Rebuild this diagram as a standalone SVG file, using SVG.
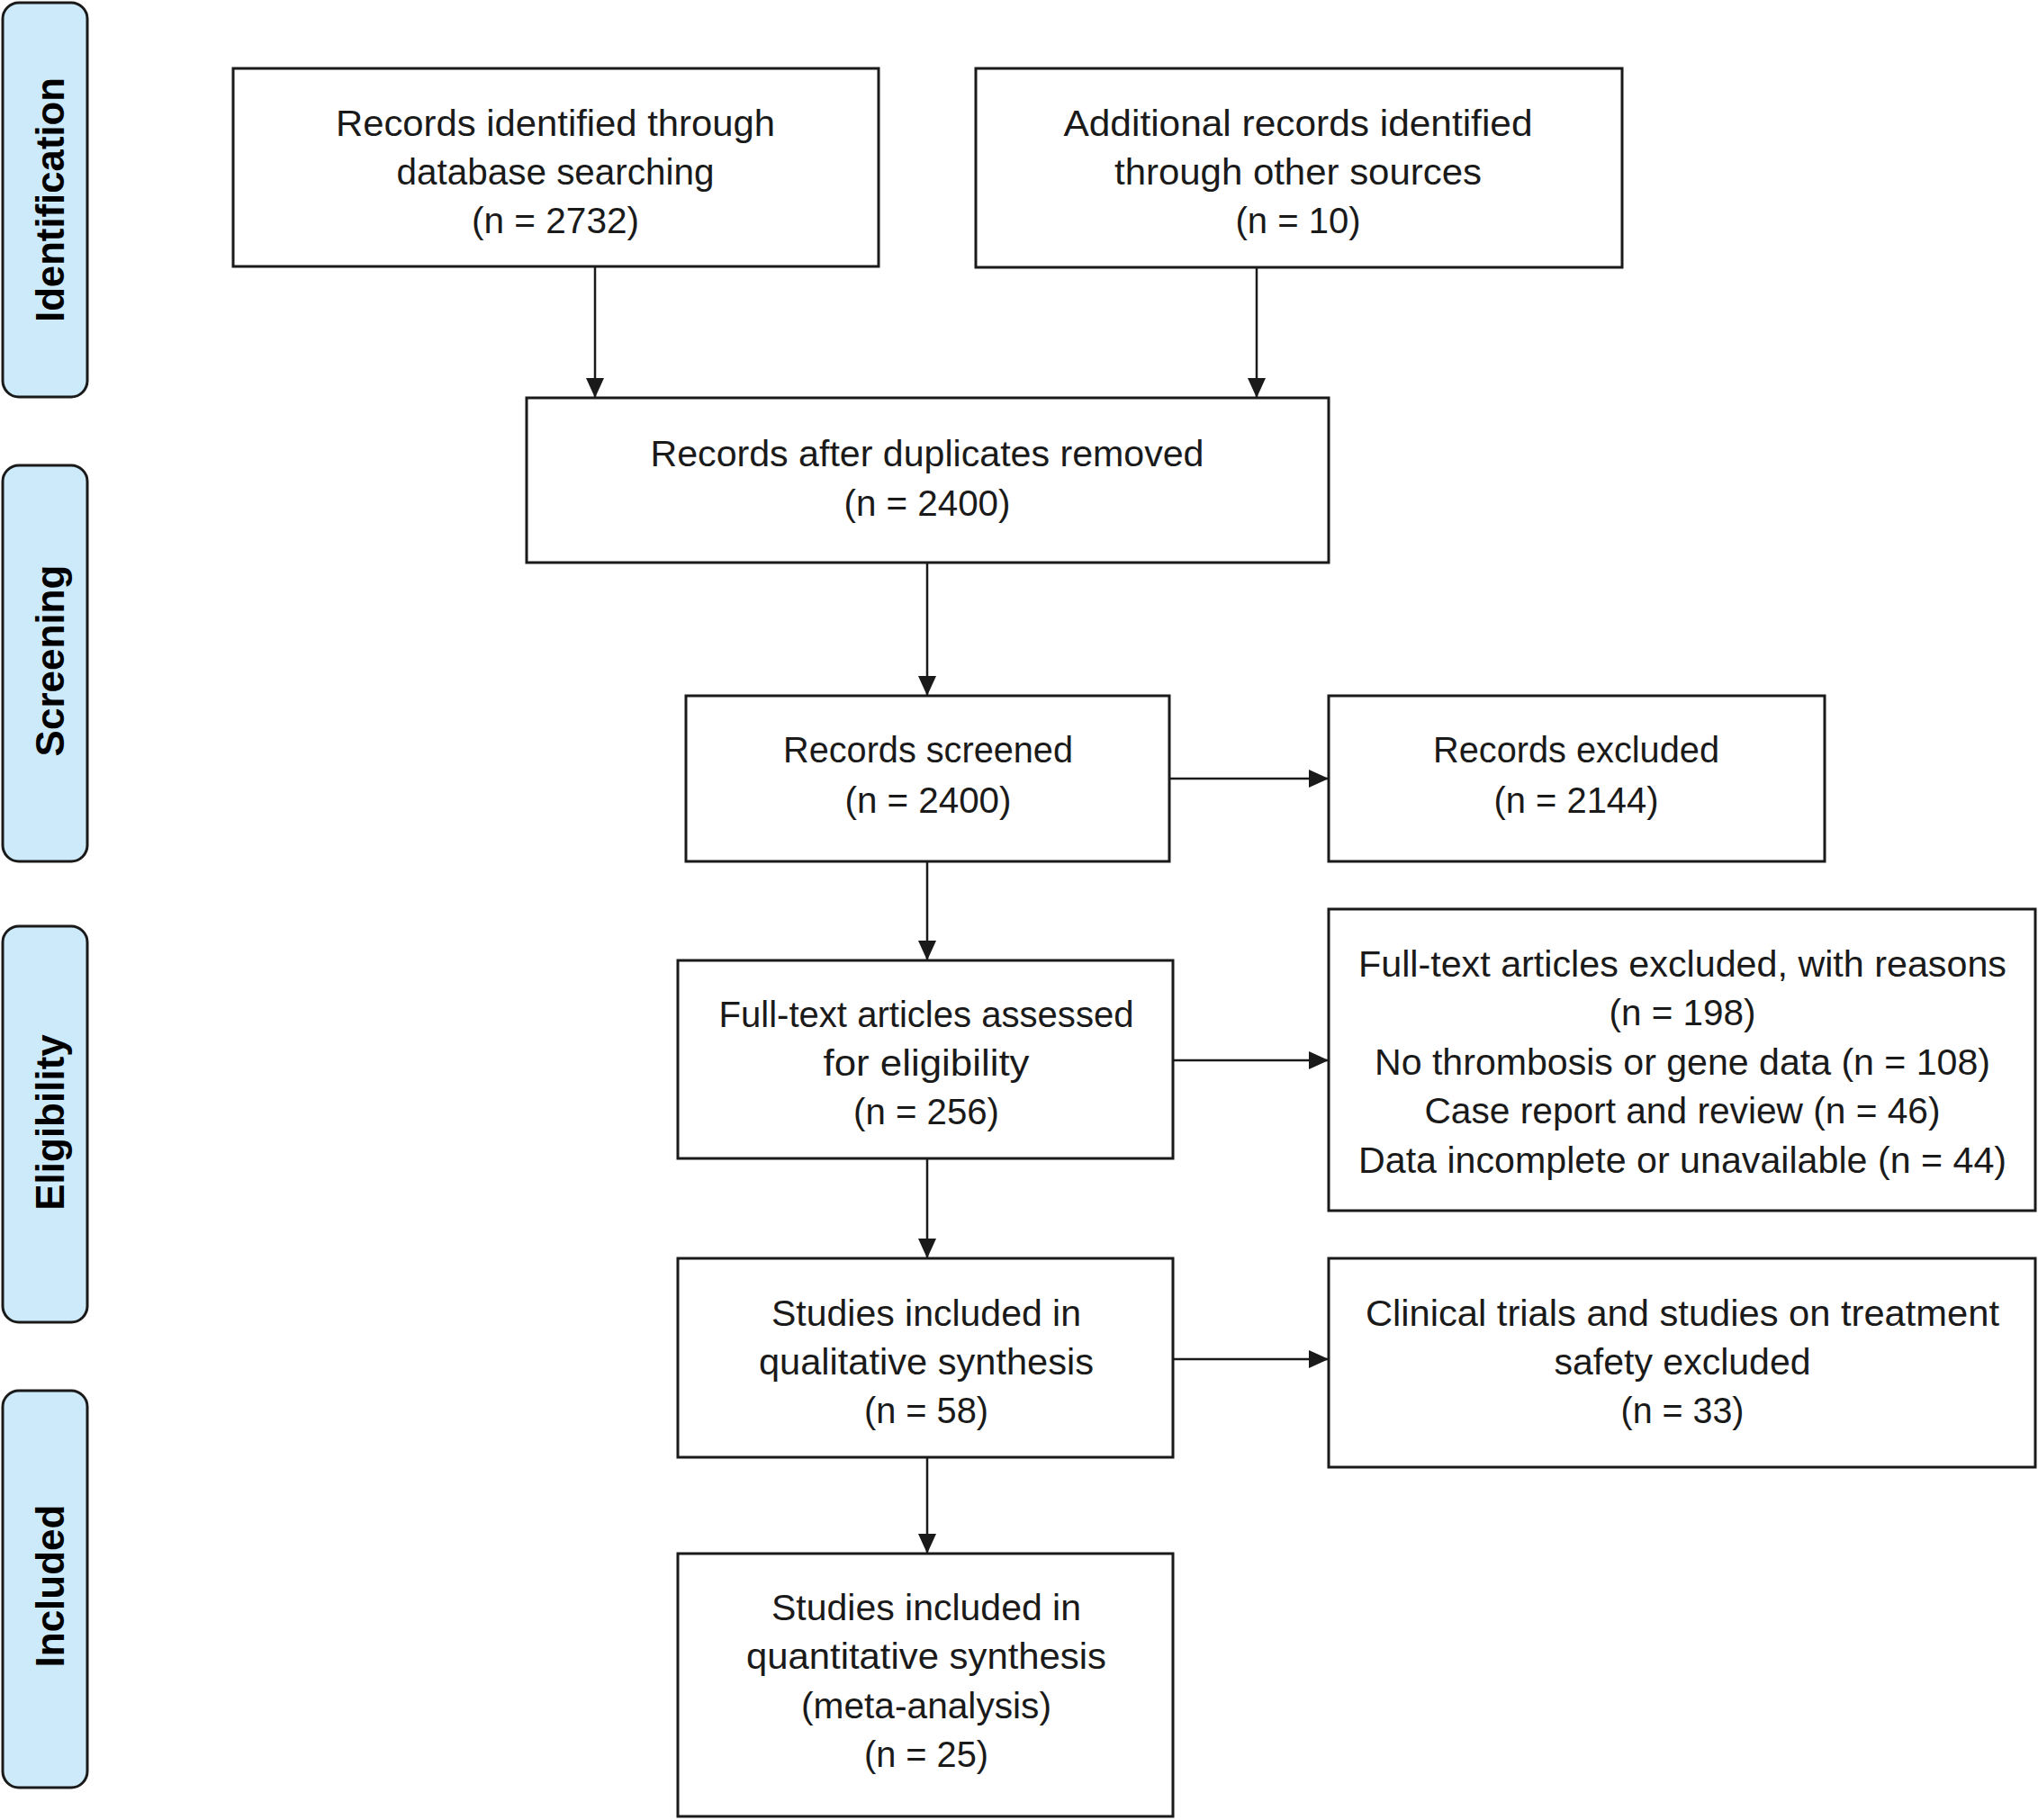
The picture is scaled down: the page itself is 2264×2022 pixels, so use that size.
<svg xmlns="http://www.w3.org/2000/svg" width="2264" height="2022" viewBox="0 0 2264 2022">
<style>
.bg{fill:#ffffff}
.box{fill:#ffffff;stroke:#1a1a1a;stroke-width:3}
.side{fill:#cdeafa;stroke:#1a1a1a;stroke-width:3}
.t{font-family:"Liberation Sans",Arial,sans-serif;font-size:40px;fill:#1a1a1a;text-anchor:middle}
.s{font-family:"Liberation Sans",Arial,sans-serif;font-size:44px;font-weight:bold;fill:#000000;text-anchor:middle}
.c{stroke:#1a1a1a;stroke-width:2.5;fill:none;marker-end:url(#ah)}
</style>
<defs>
<marker id="ah" markerUnits="userSpaceOnUse" markerWidth="22" markerHeight="20" refX="22" refY="10" orient="auto">
<path d="M0,0 L22,10 L0,20 Z" fill="#1a1a1a"/>
</marker>
</defs>
<rect class="bg" x="0" y="0" width="2264" height="2022"/>
<g id="phase-identification">
<rect class="side" x="3" y="3" width="94" height="438" rx="18"/>
<text class="s" transform="translate(71,222) rotate(-90)" textLength="272" lengthAdjust="spacingAndGlyphs">Identification</text>
</g>
<g id="phase-screening">
<rect class="side" x="3" y="517" width="94" height="440" rx="18"/>
<text class="s" transform="translate(71,734) rotate(-90)">Screening</text>
</g>
<g id="phase-eligibility">
<rect class="side" x="3" y="1029" width="94" height="440" rx="18"/>
<text class="s" transform="translate(71,1247) rotate(-90)">Eligibility</text>
</g>
<g id="phase-included">
<rect class="side" x="3" y="1545" width="94" height="441" rx="18"/>
<text class="s" transform="translate(71,1762) rotate(-90)">Included</text>
</g>
<g id="connectors">
<line class="c" x1="661" y1="296" x2="661" y2="442"/>
<line class="c" x1="1396" y1="297" x2="1396" y2="442"/>
<line class="c" x1="1030" y1="625" x2="1030" y2="773"/>
<line class="c" x1="1299" y1="865" x2="1476" y2="865"/>
<line class="c" x1="1030" y1="957" x2="1030" y2="1067"/>
<line class="c" x1="1303" y1="1178" x2="1476" y2="1178"/>
<line class="c" x1="1030" y1="1287" x2="1030" y2="1398"/>
<line class="c" x1="1303" y1="1510" x2="1476" y2="1510"/>
<line class="c" x1="1030" y1="1619" x2="1030" y2="1726"/>
</g>
<g id="n1">
<rect class="box" x="259" y="76" width="717" height="220"/>
<text class="t" x="617" y="151" textLength="488" lengthAdjust="spacingAndGlyphs">Records identified through</text>
<text class="t" x="617" y="205" textLength="353" lengthAdjust="spacingAndGlyphs">database searching</text>
<text class="t" x="617" y="259" textLength="186" lengthAdjust="spacingAndGlyphs">(n = 2732)</text>
</g>
<g id="n2">
<rect class="box" x="1084" y="76" width="718" height="221"/>
<text class="t" x="1442" y="151" textLength="521" lengthAdjust="spacingAndGlyphs">Additional records identified</text>
<text class="t" x="1442" y="205" textLength="408" lengthAdjust="spacingAndGlyphs">through other sources</text>
<text class="t" x="1442" y="259" textLength="139" lengthAdjust="spacingAndGlyphs">(n = 10)</text>
</g>
<g id="n3">
<rect class="box" x="585" y="442" width="891" height="183"/>
<text class="t" x="1030" y="518" textLength="615" lengthAdjust="spacingAndGlyphs">Records after duplicates removed</text>
<text class="t" x="1030" y="573" textLength="185" lengthAdjust="spacingAndGlyphs">(n = 2400)</text>
</g>
<g id="n4">
<rect class="box" x="762" y="773" width="537" height="184"/>
<text class="t" x="1031" y="847" textLength="322" lengthAdjust="spacingAndGlyphs">Records screened</text>
<text class="t" x="1031" y="903" textLength="185" lengthAdjust="spacingAndGlyphs">(n = 2400)</text>
</g>
<g id="n5">
<rect class="box" x="1476" y="773" width="551" height="184"/>
<text class="t" x="1751" y="847" textLength="318" lengthAdjust="spacingAndGlyphs">Records excluded</text>
<text class="t" x="1751" y="903" textLength="183" lengthAdjust="spacingAndGlyphs">(n = 2144)</text>
</g>
<g id="n6">
<rect class="box" x="753" y="1067" width="550" height="220"/>
<text class="t" x="1029" y="1141" textLength="461" lengthAdjust="spacingAndGlyphs">Full-text articles assessed</text>
<text class="t" x="1029" y="1195" textLength="229" lengthAdjust="spacingAndGlyphs">for eligibility</text>
<text class="t" x="1029" y="1249" textLength="162" lengthAdjust="spacingAndGlyphs">(n = 256)</text>
</g>
<g id="n7">
<rect class="box" x="1476" y="1010" width="785" height="335"/>
<text class="t" x="1869" y="1085" textLength="720" lengthAdjust="spacingAndGlyphs">Full-text articles excluded, with reasons</text>
<text class="t" x="1869" y="1139" textLength="163" lengthAdjust="spacingAndGlyphs">(n = 198)</text>
<text class="t" x="1869" y="1194" textLength="684" lengthAdjust="spacingAndGlyphs">No thrombosis or gene data (n = 108)</text>
<text class="t" x="1869" y="1248" textLength="573" lengthAdjust="spacingAndGlyphs">Case report and review (n = 46)</text>
<text class="t" x="1869" y="1303" textLength="720" lengthAdjust="spacingAndGlyphs">Data incomplete or unavailable (n = 44)</text>
</g>
<g id="n8">
<rect class="box" x="753" y="1398" width="550" height="221"/>
<text class="t" x="1029" y="1473" textLength="344" lengthAdjust="spacingAndGlyphs">Studies included in</text>
<text class="t" x="1029" y="1527" textLength="372" lengthAdjust="spacingAndGlyphs">qualitative synthesis</text>
<text class="t" x="1029" y="1581" textLength="138" lengthAdjust="spacingAndGlyphs">(n = 58)</text>
</g>
<g id="n9">
<rect class="box" x="1476" y="1398" width="785" height="232"/>
<text class="t" x="1869" y="1473" textLength="704" lengthAdjust="spacingAndGlyphs">Clinical trials and studies on treatment</text>
<text class="t" x="1869" y="1527" textLength="285" lengthAdjust="spacingAndGlyphs">safety excluded</text>
<text class="t" x="1869" y="1581" textLength="137" lengthAdjust="spacingAndGlyphs">(n = 33)</text>
</g>
<g id="n10">
<rect class="box" x="753" y="1726" width="550" height="292"/>
<text class="t" x="1029" y="1800" textLength="344" lengthAdjust="spacingAndGlyphs">Studies included in</text>
<text class="t" x="1029" y="1854" textLength="400" lengthAdjust="spacingAndGlyphs">quantitative synthesis</text>
<text class="t" x="1029" y="1909" textLength="278" lengthAdjust="spacingAndGlyphs">(meta-analysis)</text>
<text class="t" x="1029" y="1963" textLength="138" lengthAdjust="spacingAndGlyphs">(n = 25)</text>
</g>
</svg>
